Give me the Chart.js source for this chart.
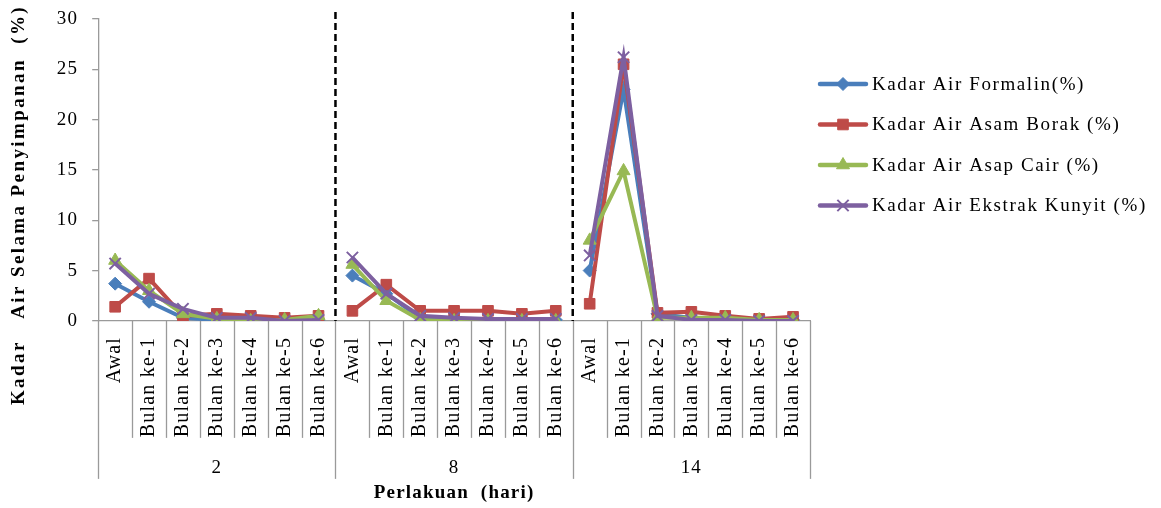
<!DOCTYPE html>
<html>
<head>
<meta charset="utf-8">
<script src="https://cdn.jsdelivr.net/npm/chart.js@4/dist/chart.umd.min.js"></script>
<style>
  html, body { margin: 0; padding: 0; background: #ffffff; }
  #wrap { width: 1161px; height: 508px; position: relative; }
</style>
</head>
<body>
<div id="wrap"><canvas id="c"></canvas></div>
<script>
// ---- data ----
const groups = ['2', '8', '14'];
const periods = ['Awal', 'Bulan ke-1', 'Bulan ke-2', 'Bulan ke-3', 'Bulan ke-4', 'Bulan ke-5', 'Bulan ke-6'];
const yTicks = [0, 5, 10, 15, 20, 25, 30];

const formalin = [3.7, 1.9, 0.3, 0.1, 0.1, 0.0, 0.0,  4.5, 2.7, 0.3, 0.2, 0.1, 0.1, 0.1,  5.0, 23.0, 0.7, 0.3, 0.2, 0.1, 0.1];
const asamBorak = [1.4, 4.2, 0.5, 0.7, 0.5, 0.3, 0.5,  1.0, 3.6, 1.0, 1.0, 1.0, 0.7, 1.0,  1.7, 25.5, 0.8, 0.9, 0.5, 0.2, 0.4];
const asapCair = [6.0, 3.0, 0.7, 0.2, 0.0, 0.1, 0.5,  5.6, 2.0, 0.1, 0.0, 0.0, 0.0, 0.0,  8.0, 14.9, 0.3, 0.3, 0.3, 0.1, 0.1];
const kunyit = [5.7, 2.7, 1.2, 0.3, 0.3, 0.0, 0.1,  6.3, 2.7, 0.5, 0.3, 0.2, 0.2, 0.2,  6.5, 26.2, 0.5, 0.1, 0.1, 0.0, 0.0];

const seriesNames = ['Kadar Air Formalin(%)', 'Kadar Air Asam Borak (%)', 'Kadar Air Asap Cair (%)', 'Kadar Air Ekstrak Kunyit (%)'];
const yTitle = 'Kadar   Air Selama Penyimpanan  (%)';
const xTitle = 'Perlakuan  (hari)';

// ---- build ----
const labels = [];
groups.forEach(g => periods.forEach(p => labels.push(p)));

const SERIF = "'Liberation Serif', 'Times New Roman', serif";
const colors = ['#4a7ebb', '#be4b48', '#98b954', '#7d60a0'];
const styles = [
  { pointStyle: 'rectRot', radius: 6.5, pbw: 1 },
  { pointStyle: 'rect', radius: 7.5, pbw: 1 },
  { pointStyle: 'triangle', radius: 7.5, pbw: 1 },
  { pointStyle: 'crossRot', radius: 8, pbw: 2 }
];
const values = [formalin, asamBorak, asapCair, kunyit];

const datasets = values.map((v, i) => ({
  label: seriesNames[i],
  data: v,
  borderColor: colors[i],
  backgroundColor: colors[i],
  borderWidth: 4,
  pointStyle: styles[i].pointStyle,
  pointRadius: styles[i].radius,
  pointBorderWidth: styles[i].pbw,
  pointBorderColor: colors[i],
  pointBackgroundColor: colors[i],
  tension: 0,
  order: 4 - i,
  segment: {
    borderColor: ctx => (ctx.p0DataIndex % periods.length === periods.length - 1) ? 'rgba(0,0,0,0)' : colors[i]
  }
}));

const spacingPlugin = {
  id: 'spacing',
  beforeLayout(chart) { chart.ctx.letterSpacing = '1.2px'; },
  beforeDraw(chart) { chart.ctx.letterSpacing = '1.2px'; }
};

const decorPlugin = {
  id: 'decor',
  afterDraw(chart) {
    const ctx = chart.ctx;
    const x = chart.scales.x;
    const y = chart.scales.y;
    const n = labels.length;
    const w = (x.right - x.left) / n;
    const y0 = y.getPixelForValue(0);
    ctx.save();
    // category separators
    ctx.strokeStyle = '#9a9a9a';
    ctx.lineWidth = 1.3;
    for (let i = 0; i <= n; i++) {
      const px = Math.round(x.getPixelForValue(Math.min(i, n - 1)) + (i === n ? w / 2 : -w / 2)) + 0.5;
      const isGroup = i % periods.length === 0;
      ctx.beginPath();
      ctx.moveTo(px, y0);
      ctx.lineTo(px, isGroup ? y0 + 158 : y0 + 117);
      ctx.stroke();
    }
    // group labels
    ctx.fillStyle = '#000';
    ctx.font = '19px ' + SERIF;
    ctx.letterSpacing = '1px';
    ctx.textAlign = 'center';
    ctx.textBaseline = 'middle';
    groups.forEach((g, gi) => {
      const a = x.getPixelForValue(gi * periods.length) - w / 2;
      const b = x.getPixelForValue(gi * periods.length + periods.length - 1) + w / 2;
      ctx.fillText(g, (a + b) / 2, y0 + 147);
    });
    // y title
    ctx.save();
    ctx.font = 'bold 19px ' + SERIF;
    ctx.letterSpacing = '2.4px';
    ctx.translate(19, 205);
    ctx.rotate(-Math.PI / 2);
    ctx.fillText(yTitle, 0, 0);
    ctx.restore();
    // dashed group dividers
    ctx.strokeStyle = '#000';
    ctx.lineWidth = 2.5;
    ctx.setLineDash([7, 4]);
    for (let gi = 1; gi < groups.length; gi++) {
      const px = x.getPixelForValue(gi * periods.length) - w / 2;
      ctx.beginPath();
      ctx.moveTo(px, y.top - 7);
      ctx.lineTo(px, y0);
      ctx.stroke();
    }
    ctx.setLineDash([]);
    // legend
    const lx = 820, ly0 = 84, ldy = 40.5;
    ctx.font = '19px ' + SERIF;
    ctx.letterSpacing = '1.6px';
    ctx.textAlign = 'left';
    datasets.forEach((d, i) => {
      const yy = ly0 + i * ldy;
      ctx.strokeStyle = colors[i];
      ctx.fillStyle = colors[i];
      ctx.lineWidth = 4.5;
      ctx.lineCap = 'round';
      ctx.beginPath();
      ctx.moveTo(lx, yy);
      ctx.lineTo(lx + 46, yy);
      ctx.stroke();
      ctx.lineCap = 'butt';
      ctx.lineWidth = styles[i].pbw;
      Chart.helpers.drawPoint(ctx, {
        pointStyle: styles[i].pointStyle,
        radius: styles[i].radius,
        borderWidth: styles[i].pbw,
        rotation: 0
      }, lx + 23, yy);
      ctx.fillStyle = '#000';
      ctx.fillText(d.label, lx + 52, yy + 1);
    });
    ctx.restore();
  }
};

new Chart(document.getElementById('c'), {
  type: 'line',
  data: { labels, datasets },
  plugins: [spacingPlugin, decorPlugin],
  options: {
    responsive: true,
    maintainAspectRatio: false,
    animation: false,
    layout: { padding: { top: 19, right: 351, left: 6, bottom: 4 } },
    plugins: { legend: { display: false }, tooltip: { enabled: false } },
    scales: {
      x: {
        offset: true,
        grid: { display: false, drawTicks: false },
        border: { display: true, color: '#9a9a9a', width: 1.3 },
        ticks: {
          autoSkip: false,
          maxRotation: 90,
          minRotation: 90,
          padding: 16,
          color: '#000',
          font: { family: SERIF, size: 20 }
        },
        title: {
          display: true,
          text: xTitle,
          color: '#000',
          font: { family: SERIF, size: 19, weight: 'bold' },
          padding: { top: 28, bottom: 0 }
        }
      },
      y: {
        min: 0,
        max: 30,
        afterBuildTicks: s => { s.ticks = yTicks.map(v => ({ value: v })); },
        afterFit: s => { s.paddingTop = 0; s.paddingBottom = 0; },
        grid: { drawOnChartArea: false, drawTicks: true, tickLength: 6, color: '#9a9a9a', lineWidth: 1.3 },
        border: { display: true, color: '#9a9a9a', width: 1.3 },
        ticks: {
          color: '#000',
          padding: 14,
          font: { family: SERIF, size: 19 }
        },
        title: {
          display: true,
          text: yTitle,
          color: 'rgba(0,0,0,0)',
          font: { family: SERIF, size: 19, weight: 'bold' },
          padding: { top: 0, bottom: 14 }
        }
      }
    }
  }
});
</script>
</body>
</html>
